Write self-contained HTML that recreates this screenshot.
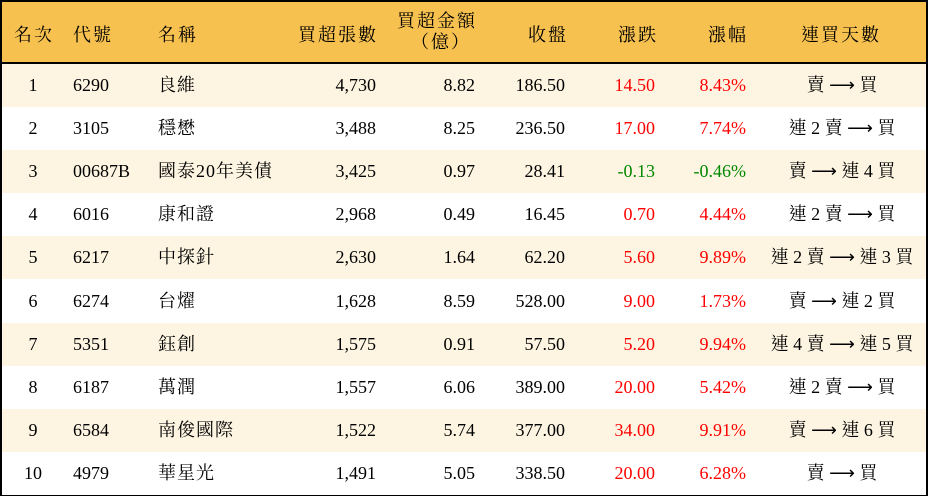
<!DOCTYPE html>
<html><head><meta charset="utf-8"><style>
body{margin:0;width:928px;height:496px;overflow:hidden;background:#fff;font-family:"Liberation Serif","Noto Serif CJK TC","Noto Serif CJK SC",serif;font-size:18px;color:#000}
#w{position:absolute;left:0;top:0;width:924px;height:492px;border:2px solid #000}
.h{position:absolute;left:0;top:0;width:924px;height:60px;background:#F7C150;border-bottom:2px solid #000}
.r{position:absolute;left:0;width:924px;height:43.1px}
.c{position:absolute;top:0;line-height:43px;white-space:nowrap}
.hc{position:absolute;white-space:nowrap;letter-spacing:2px}
.red{color:#f00}.grn{color:#080}
.cj{letter-spacing:1px}
</style></head><body><div id="w">
<div class="h">
<div class="hc" style="left:12px;top:19px">名次</div>
<div class="hc" style="left:71px;top:19px">代號</div>
<div class="hc" style="left:156px;top:19px">名稱</div>
<div class="hc" style="right:548px;top:19px">買超張數</div>
<div class="hc" style="right:449px;top:5px">買超金額</div>
<div class="hc" style="right:455px;top:26px">（億）</div>
<div class="hc" style="right:358px;top:19px">收盤</div>
<div class="hc" style="right:268px;top:19px">漲跌</div>
<div class="hc" style="right:178px;top:19px">漲幅</div>
<div class="hc" style="left:799px;top:19px">連買天數</div>
</div>
<div id="rows"></div>
</div>
<script>
var d=[["1","6290","良維","4,730","8.82","186.50","14.50","8.43%","賣 ⟶ 買",1],
["2","3105","穩懋","3,488","8.25","236.50","17.00","7.74%","連 2 賣 ⟶ 買",1],
["3","00687B","國泰20年美債","3,425","0.97","28.41","-0.13","-0.46%","賣 ⟶ 連 4 買",0],
["4","6016","康和證","2,968","0.49","16.45","0.70","4.44%","連 2 賣 ⟶ 買",1],
["5","6217","中探針","2,630","1.64","62.20","5.60","9.89%","連 2 賣 ⟶ 連 3 買",1],
["6","6274","台燿","1,628","8.59","528.00","9.00","1.73%","賣 ⟶ 連 2 買",1],
["7","5351","鈺創","1,575","0.91","57.50","5.20","9.94%","連 4 賣 ⟶ 連 5 買",1],
["8","6187","萬潤","1,557","6.06","389.00","20.00","5.42%","連 2 賣 ⟶ 買",1],
["9","6584","南俊國際","1,522","5.74","377.00","34.00","9.91%","賣 ⟶ 連 6 買",1],
["10","4979","華星光","1,491","5.05","338.50","20.00","6.28%","賣 ⟶ 買",1]];
var h="";
d.forEach(function(r,i){var cl=r[9]?"red":"grn";
h+='<div class="r" style="top:'+(62+i*43.1)+'px;background:'+(i%2?'#fff':'#FDF5E2')+'">'+
'<div class="c" style="left:0;width:62px;text-align:center">'+r[0]+'</div>'+
'<div class="c" style="left:71px">'+r[1]+'</div>'+
'<div class="c cj" style="left:156px">'+r[2]+'</div>'+
'<div class="c" style="right:550px">'+r[3]+'</div>'+
'<div class="c" style="right:451px">'+r[4]+'</div>'+
'<div class="c" style="right:361px">'+r[5]+'</div>'+
'<div class="c '+cl+'" style="right:271px">'+r[6]+'</div>'+
'<div class="c '+cl+'" style="right:180px">'+r[7]+'</div>'+
'<div class="c" style="left:750px;width:180px;text-align:center">'+r[8]+'</div></div>';});
document.getElementById("rows").innerHTML=h;
</script>
</body></html>
